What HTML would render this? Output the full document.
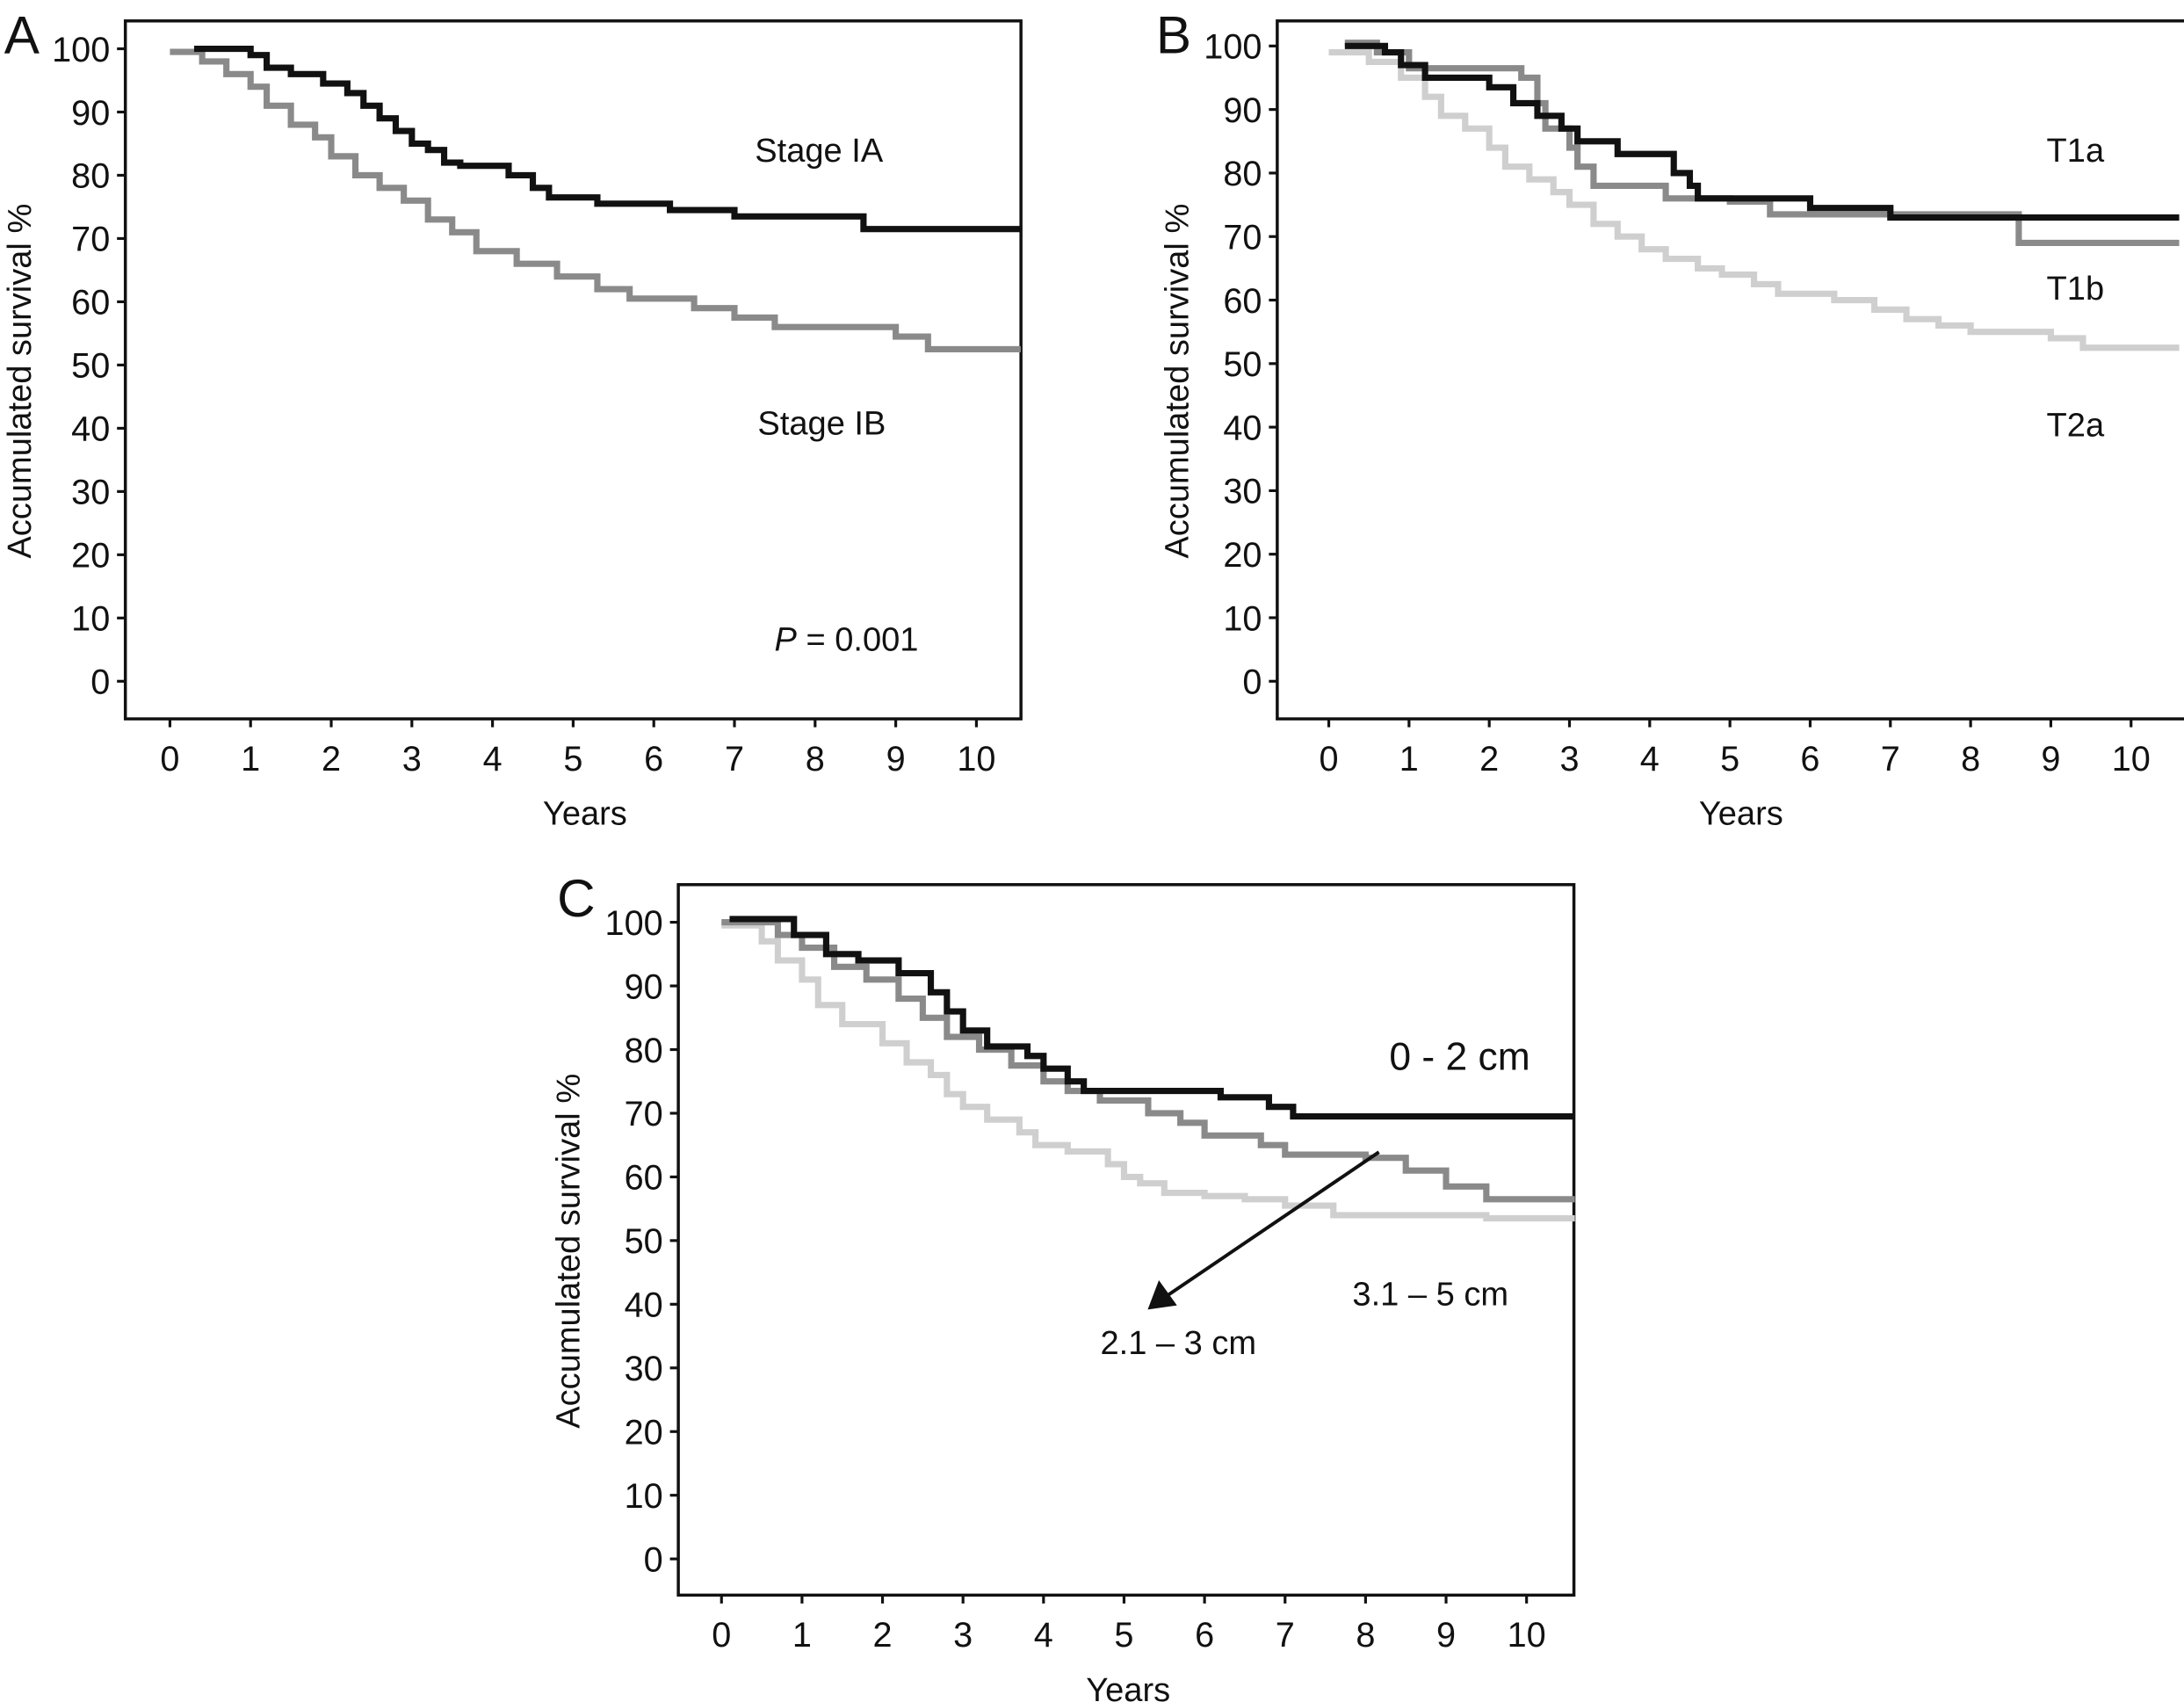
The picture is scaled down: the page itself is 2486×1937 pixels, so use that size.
<!DOCTYPE html>
<html><head><meta charset="utf-8"><style>html,body{margin:0;padding:0;background:#fff}svg{display:block}text{font-family:"Liberation Sans",sans-serif;fill:#111}</style></head>
<body>
<svg id="fig" xmlns="http://www.w3.org/2000/svg" width="2486" height="1937" viewBox="0 0 1568 1221.7"></svg>
<script>
// Panel A data
const aIA_t=[0.3,1.0,1.2,1.5,1.9,2.2,2.4,2.6,2.8,3.0,3.2,3.4,3.6,4.2,4.5,4.7,5.3,6.2,7.0,8.6,10.55];
const aIA_s=[100,99,97,96,94.5,93,91,89,87,85,84,82,81.5,80,78,76.5,75.5,74.5,73.5,71.5,71.5];
const aIB_t=[0,0.4,0.7,1.0,1.2,1.5,1.8,2.0,2.3,2.6,2.9,3.2,3.5,3.8,4.3,4.8,5.3,5.7,6.5,7.0,7.5,9.0,9.4,10.55];
const aIB_s=[99.5,98,96,94,91,88,86,83,80,78,76,73,71,68,66,64,62,60.5,59,57.5,56,54.5,52.5,52.5];
// Panel B data
const bT1a_t=[0.2,0.7,0.9,1.2,2.0,2.3,2.6,2.9,3.1,3.6,4.3,4.5,4.6,6.0,7.0,10.6];
const bT1a_s=[100,99,97,95,93.5,91,89,87,85,83,80,78,76,74.5,73,73];
const bT1b_t=[0.2,0.6,1.0,2.4,2.6,2.7,3.0,3.1,3.3,4.2,5.0,5.5,8.6,10.6];
const bT1b_s=[100.5,99,96.5,95,91,87,84,81,78,76,75.5,73.5,69,69];
const bT2a_t=[0,0.5,0.9,1.2,1.4,1.7,2.0,2.2,2.5,2.8,3.0,3.3,3.6,3.9,4.2,4.6,4.9,5.3,5.6,6.3,6.8,7.2,7.6,8.0,9.0,9.4,10.6];
const bT2a_s=[99,97.5,95,92,89,87,84,81,79,77,75,72,70,68,66.5,65,64,62.5,61,60,58.5,57,56,55,54,52.5,52.5];
// Panel C data
const c02_t=[0.1,0.9,1.3,1.7,2.2,2.6,2.8,3.0,3.3,3.8,4.0,4.3,4.5,6.2,6.8,7.1,10.6];
const c02_s=[100.5,98,95,94,92,89,86,83,80.5,79,77,75,73.5,72.5,71,69.5,69.5];
const c23_t=[0,0.7,1.0,1.4,1.8,2.2,2.5,2.8,3.2,3.6,4.0,4.3,4.7,5.3,5.7,6.0,6.7,7.0,8.0,8.5,9.0,9.5,10.6];
const c23_s=[100,98,96,93,91,88,85,82,80,77.5,75,73.5,72,70,68.5,66.5,65,63.5,63,61,58.5,56.5,56.5];
const c35_t=[0,0.5,0.7,1.0,1.2,1.5,2.0,2.3,2.6,2.8,3.0,3.3,3.7,3.9,4.3,4.8,5.0,5.2,5.5,6.0,6.5,7.0,7.6,9.5,10.6];
const c35_s=[99.5,97,94,91,87,84,81,78,76,73,71,69,67,65,64,62,60,59,57.5,57,56.5,55.5,54,53.5,53.5];
const yTicks=[0,10,20,30,40,50,60,70,80,90,100];
const xTicks=[0,1,2,3,4,5,6,7,8,9,10];

const NS="http://www.w3.org/2000/svg";
const svg=document.getElementById('fig');
function mk(tag,attrs,parent){const e=document.createElementNS(NS,tag);for(const k in attrs)e.setAttribute(k,attrs[k]);(parent||svg).appendChild(e);return e;}
function txt(s,x,y,size,anchor,parent,extra){const e=mk('text',Object.assign({x:x,y:y,'font-size':size,'text-anchor':anchor||'middle'},extra||{}),parent);e.textContent=s;return e;}

function panel(p){
  const g=mk('g',{});
  
  
  const X=v=>p.x0+(p.x10-p.x0)*v/10, Y=v=>p.y0+(p.y100-p.y0)*v/100;
  const box=mk('rect',{x:p.bx,y:p.by,width:p.bw,height:p.bh,fill:'none',stroke:'#111','stroke-width':2.2},g);
  
  
  yTicks.forEach(v=>{
    const l=mk('line',{x1:p.bx-6,x2:p.bx,y1:Y(v),y2:Y(v),stroke:'#111','stroke-width':2},g);
    
    
    const t=txt(String(v),p.bx-11,Y(v)+9,25,'end',g);
    
    
  });
  xTicks.forEach(v=>{
    const l=mk('line',{x1:X(v),x2:X(v),y1:p.by+p.bh,y2:p.by+p.bh+6,stroke:'#111','stroke-width':2},g);
    
    
    const t=txt(String(v),X(v),p.by+p.bh+37,25,'middle',g);
    
    
  });
  const xt=txt('Years',p.xtx,p.by+p.bh+76,24,'middle',g);
  
  
  const yc=p.by+p.bh/2+8;
  const yt=txt('Accumulated survival %',p.ytx,yc,24,'middle',g,{transform:'rotate(-90 '+p.ytx+' '+yc+')'});
  
  
  const lt=txt(p.id,p.bx-87,p.by+23,38,'start',g);
  
  
  p.series.forEach(s=>{
    let d='M'+X(s.t[0])+','+Y(s.s[0]);
    for(let i=1;i<s.t.length;i++){d+=' H'+X(s.t[i])+' V'+Y(s.s[i]);}
    const path=mk('path',{d:d,fill:'none',stroke:s.c,'stroke-width':4.5,'stroke-linejoin':'miter'},g);
    
    
  });
  return g;
}

panel({id:'A',bx:90,by:15,bw:643,bh:501,x0:122,x10:701,y0:489,y100:35,ytx:22,xtx:420,series:[
  {t:aIB_t,s:aIB_s,c:'#8a8a8a',name:'stage-ib-curve'},
  {t:aIA_t,s:aIA_s,c:'#111',name:'stage-ia-curve'}]});
panel({id:'B',bx:917,by:15,bw:660,bh:501,x0:954,x10:1530,y0:489,y100:33,ytx:853,xtx:1250,series:[
  {t:bT2a_t,s:bT2a_s,c:'#cfcfcf',name:'t2a-curve'},
  {t:bT1b_t,s:bT1b_s,c:'#8a8a8a',name:'t1b-curve'},
  {t:bT1a_t,s:bT1a_s,c:'#111',name:'t1a-curve'}]});
panel({id:'C',bx:487,by:635,bw:643,bh:510,x0:518,x10:1096,y0:1119,y100:662,ytx:416,xtx:810,series:[
  {t:c35_t,s:c35_s,c:'#cfcfcf',name:'3-5cm-curve'},
  {t:c23_t,s:c23_s,c:'#8a8a8a',name:'2-3cm-curve'},
  {t:c02_t,s:c02_s,c:'#111',name:'0-2cm-curve'}]});

const labels=[['Stage IA',588,116,24,'label-stage-ia'],['Stage IB',590,312,24,'label-stage-ib'],
 ['T1a',1490,116,24,'label-t1a'],['T1b',1490,215,24,'label-t1b'],['T2a',1490,313,24,'label-t2a'],
 ['0 - 2 cm',1048,768,28,'label-0-2cm'],['3.1 – 5 cm',1027,937,24,'label-3-5cm'],['2.1 – 3 cm',846,972,24,'label-2-3cm']];
labels.forEach(l=>{const t=txt(l[0],l[1],l[2],l[3],'middle');
  
  });
const pv=mk('text',{x:556,y:467,'font-size':24});


pv.innerHTML='<tspan font-style="italic">P</tspan> = 0.001';
const ar=mk('line',{x1:990,y1:827,x2:838,y2:930,stroke:'#111','stroke-width':2.5});


const ah=mk('polygon',{points:'824,940 832,919 845,937',fill:'#111'});


</script>
</body></html>
